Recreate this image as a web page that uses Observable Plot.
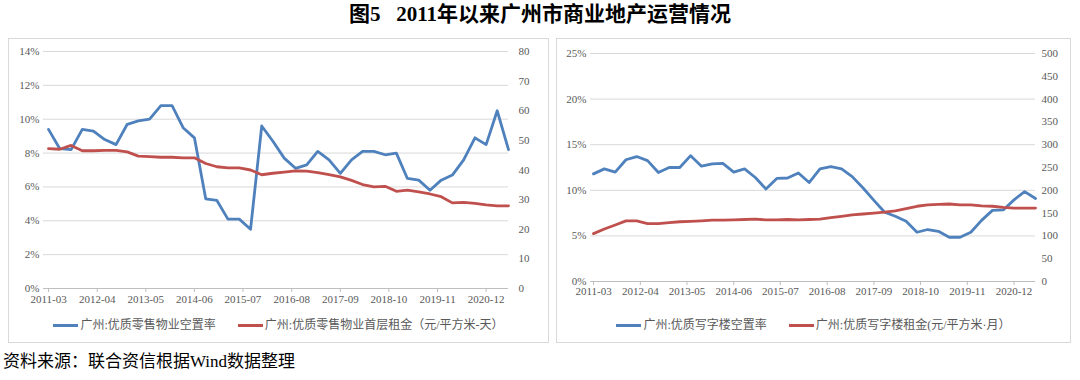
<!DOCTYPE html>
<html><head><meta charset="utf-8">
<script src="https://cdn.jsdelivr.net/npm/d3@7"></script>
<script src="https://cdn.jsdelivr.net/npm/@observablehq/plot@0.6"></script>
<style>
body{margin:0;background:#fff;}
#wrap{position:relative;width:1080px;height:380px;overflow:hidden;font-family:"Liberation Serif","Times New Roman","Noto Sans CJK SC",serif;}
.title{position:absolute;left:0;top:0px;width:1080px;text-align:center;font-size:21px;line-height:28px;font-weight:bold;color:#000;}
.panel{position:absolute;border:1px solid #d9d9d9;box-sizing:border-box;}
.chart{position:absolute;}
.legend{position:absolute;font-size:12px;line-height:14px;color:#595959;display:flex;justify-content:center;align-items:center;white-space:nowrap;}
.item{display:flex;align-items:center;margin:0 11px;}
.sw{display:inline-block;width:25px;height:3px;margin-right:2px;}
.source{position:absolute;left:3px;top:351px;font-size:17px;line-height:22px;color:#000;}
</style></head>
<body>
<div id="wrap">
  <div class="title">图5&nbsp;&nbsp;&nbsp;2011年以来广州市商业地产运营情况</div>
  <div class="panel" style="left:8px;top:38px;width:541px;height:305px;"></div>
  <div class="panel" style="left:556px;top:38px;width:515px;height:305px;"></div>
  <div class="chart" id="c1" style="left:8px;top:38px;"></div>
  <div class="chart" id="c2" style="left:556px;top:38px;"></div>
  <div class="legend" id="l1" style="left:8px;top:318px;width:541px;"></div>
  <div class="legend" id="l2" style="left:556px;top:318px;width:515px;"></div>
  <div class="source">资料来源：联合资信根据Wind数据整理</div>
</div>
<script>
// ---- data ----
const quarters = ["2011-03","2011-06","2011-09","2011-12","2012-03","2012-06","2012-09","2012-12",
  "2013-03","2013-06","2013-09","2013-12","2014-03","2014-06","2014-09","2014-12",
  "2015-03","2015-06","2015-09","2015-12","2016-03","2016-06","2016-09","2016-12",
  "2017-03","2017-06","2017-09","2017-12","2018-03","2018-06","2018-09","2018-12",
  "2019-03","2019-06","2019-09","2019-12","2020-03","2020-06","2020-09","2020-12",
  "2021-03","2021-06"];
const xTickLabels = ["2011-03","2012-04","2013-05","2014-06","2015-07","2016-08","2017-09","2018-10","2019-11","2020-12"];

// 广州:优质零售物业空置率 (%)
const retailVacancy = [9.4,8.26,8.2,9.4,9.3,8.8,8.5,9.7,9.9,10.0,
  10.8,10.8,9.5,8.9,5.3,5.2,4.1,4.1,3.5,9.6,
  8.7,7.7,7.1,7.3,8.1,7.6,6.8,7.6,8.1,8.1,
  7.9,8.0,6.5,6.4,5.8,6.4,6.7,7.6,8.9,8.5,
  10.5,8.2];
// 广州:优质零售物业首层租金 (元/平方米-天)
const retailRent = [47.2,47.0,48.3,46.5,46.5,46.6,46.6,46.1,44.7,44.5,
  44.3,44.3,44.1,44.1,42.2,41.1,40.7,40.7,40.0,38.4,
  38.9,39.3,39.7,39.6,39.1,38.4,37.7,36.5,35.1,34.3,
  34.5,32.8,33.2,32.6,31.9,31.0,28.9,29.1,28.7,28.2,
  27.9,27.9];
// 广州:优质写字楼空置率 (%)
const officeVacancy = [11.8,12.35,12.0,13.35,13.7,13.25,11.95,12.5,12.5,13.8,
  12.65,12.9,12.95,12.0,12.35,11.4,10.15,11.3,11.35,11.9,
  10.85,12.35,12.6,12.35,11.5,10.25,8.9,7.6,7.15,6.6,
  5.4,5.7,5.5,4.85,4.85,5.4,6.7,7.8,7.85,8.95,
  9.85,9.1];
// 广州:优质写字楼租金 (元/平方米·月)
const officeRent = [105,115,124,133,133,127,127,129,131,132,
  133,134.5,134.5,135,136,137,135,135,136,135,
  136,137,140,143,146,148,150,152,155,160,
  165,168,169,170,168,168,166,165,162.5,161,
  161,161];

const leftPctTicks = [0,2,4,6,8,10,12,14];
const leftRentTicks = [0,10,20,30,40,50,60,70,80];
const rightPctTicks = [0,5,10,15,20,25];
const rightRentTicks = [0,50,100,150,200,250,300,350,400,450,500];

const seriesNames = {
  retailVac: "广州:优质零售物业空置率",
  retailRent: "广州:优质零售物业首层租金（元/平方米-天）",
  officeVac: "广州:优质写字楼空置率",
  officeRent: "广州:优质写字楼租金(元/平方米·月）"
};

const BLUE = "#4F81BD", RED = "#C0504D", GRID = "#d9d9d9", TXT = "#595959";
const parse = d3.utcParse("%Y-%m");
const fmt = d3.utcFormat("%Y-%m");

function dualChart({vac, rent, pctMax, rentMax, pctTicks, rentTicks, width, height, mL, mR, mT, mB, inset, rightPad, xPad}) {
  const k = pctMax / rentMax;
  const data = quarters.map((q, i) => ({date: parse(q), vac: vac[i], rent: rent[i]}));
  return Plot.plot({
    width, height,
    marginLeft: mL, marginRight: mR, marginTop: mT, marginBottom: mB,
    style: {fontFamily: "Liberation Serif, Times New Roman, serif", fontSize: "11px", color: TXT, background: "transparent"},
    x: {type: "utc", domain: [parse(quarters[0]), parse(quarters[quarters.length - 1])], insetLeft: inset},
    y: {domain: [0, pctMax]},
    marks: [
      Plot.gridY(pctTicks, {stroke: GRID, strokeOpacity: 1, strokeWidth: 1}),
      Plot.ruleY([0], {stroke: "#bfbfbf"}),
      Plot.axisY(pctTicks, {tickSize: 0, tickPadding: 4, tickFormat: d => d + "%", label: null}),
      Plot.axisY(rentTicks.map(v => v * k), {anchor: "right", tickSize: 0, tickPadding: rightPad, textAnchor: "start",
        tickFormat: d => String(Math.round(d / k)), label: null}),
      Plot.axisX(xTickLabels.map(parse), {tickSize: 4, tickPadding: xPad, stroke: "#bfbfbf", tickFormat: fmt, label: null}),
      Plot.lineY(data, {x: "date", y: "vac", stroke: BLUE, strokeWidth: 2.8, strokeLinejoin: "round"}),
      Plot.lineY(data, {x: "date", y: d => d.rent * k, stroke: RED, strokeWidth: 2.8, strokeLinejoin: "round"})
    ]
  });
}

document.getElementById("c1").append(dualChart({
  vac: retailVacancy, rent: retailRent, pctMax: 14, rentMax: 80,
  pctTicks: leftPctTicks, rentTicks: leftRentTicks,
  width: 540, height: 280, mL: 35, mR: 40, mT: 13, mB: 30, inset: 5, rightPad: 10, xPad: 3
}));
document.getElementById("c2").append(dualChart({
  vac: officeVacancy, rent: officeRent, pctMax: 25, rentMax: 500,
  pctTicks: rightPctTicks, rentTicks: rightRentTicks,
  width: 514, height: 270, mL: 34, mR: 35, mT: 15, mB: 27, inset: 3, rightPad: 6, xPad: 2
}));

function legend(id, items) {
  const el = document.getElementById(id);
  for (const [name, color] of items) {
    const it = document.createElement("div");
    it.className = "item";
    it.innerHTML = `<span class="sw" style="background:${color}"></span><span>${name}</span>`;
    el.append(it);
  }
}
legend("l1", [[seriesNames.retailVac, BLUE], [seriesNames.retailRent, RED]]);
legend("l2", [[seriesNames.officeVac, BLUE], [seriesNames.officeRent, RED]]);
</script>
</body></html>
